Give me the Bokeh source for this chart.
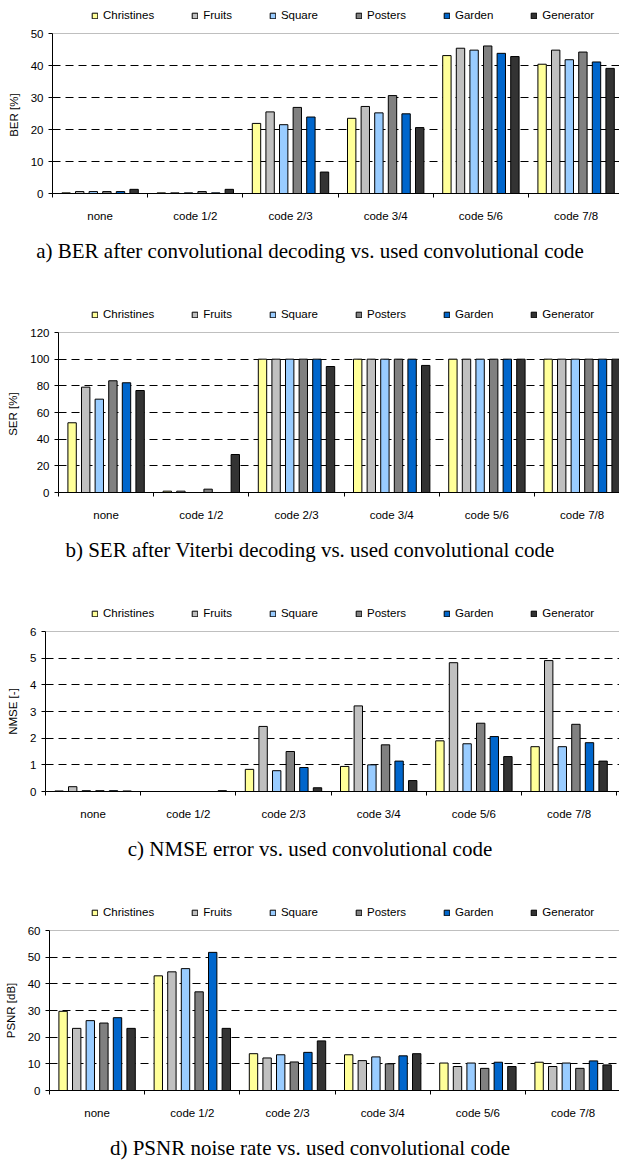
from bokeh.plotting import figure
from bokeh.layouts import column
from bokeh.models import (ColumnDataSource, FixedTicker, Legend, LegendItem,
                          Label, Span, Range1d)
from bokeh.transform import dodge
from bokeh.embed import file_html
from bokeh.resources import INLINE

# ---------------- data ----------------
categories = ["none", "code 1/2", "code 2/3", "code 3/4", "code 5/6", "code 7/8"]
series = ["Christines", "Fruits", "Square", "Posters", "Garden", "Generator"]
colors = ["#FFFF99", "#C0C0C0", "#99CCFF", "#808080", "#0066CC", "#333333"]

# a) BER [%]
ber_christines = [0.2, 0.2, 21.9, 23.5, 43.1, 40.4]
ber_fruits     = [0.6, 0.2, 25.5, 27.2, 45.4, 44.8]
ber_square     = [0.6, 0.2, 21.5, 25.2, 44.8, 41.8]
ber_posters    = [0.6, 0.6, 26.9, 30.6, 46.1, 44.2]
ber_garden     = [0.6, 0.2, 23.9, 24.9, 43.8, 41.1]
ber_generator  = [1.3, 1.3, 6.7, 20.6, 42.8, 39.1]
ber_ticks = [0, 10, 20, 30, 40, 50]

# b) SER [%]
ser_christines = [52.3, 1.0, 100, 100, 100, 100]
ser_fruits     = [79.0, 1.0, 100, 100, 100, 100]
ser_square     = [70.0, 0.0, 100, 100, 100, 100]
ser_posters    = [83.8, 2.5, 100, 100, 100, 100]
ser_garden     = [82.3, 0.0, 100, 100, 100, 100]
ser_generator  = [76.5, 28.5, 94.5, 95.3, 100, 100]
ser_ticks = [0, 20, 40, 60, 80, 100, 120]

# c) NMSE [-]
nmse_christines = [0.02, 0.0, 0.83, 0.94, 1.90, 1.68]
nmse_fruits     = [0.18, 0.0, 2.44, 3.21, 4.83, 4.91]
nmse_square     = [0.03, 0.0, 0.78, 1.00, 1.79, 1.68]
nmse_posters    = [0.03, 0.0, 1.50, 1.75, 2.56, 2.52]
nmse_garden     = [0.03, 0.0, 0.90, 1.14, 2.06, 1.83]
nmse_generator  = [0.02, 0.03, 0.14, 0.41, 1.31, 1.14]
nmse_ticks = [0, 1, 2, 3, 4, 5, 6]

# d) PSNR [dB]
psnr_christines = [29.7, 43.0, 13.8, 13.4, 10.3, 10.6]
psnr_fruits     = [23.3, 44.5, 12.2, 11.2, 9.0, 9.0]
psnr_square     = [26.2, 45.7, 13.4, 12.6, 10.3, 10.3]
psnr_posters    = [25.3, 37.0, 10.7, 10.0, 8.3, 8.3]
psnr_garden     = [27.3, 51.8, 14.3, 13.0, 10.6, 11.1]
psnr_generator  = [23.3, 23.3, 18.6, 13.8, 9.0, 9.6]
psnr_ticks = [0, 10, 20, 30, 40, 50, 60]

panels = [
    dict(values=[ber_christines, ber_fruits, ber_square, ber_posters, ber_garden, ber_generator],
         ticks=ber_ticks, ylabel="BER  [%]", left=52, cap_h=71, cap_from_top=22,
         caption="a) BER after convolutional decoding vs. used convolutional code"),
    dict(values=[ser_christines, ser_fruits, ser_square, ser_posters, ser_garden, ser_generator],
         ticks=ser_ticks, ylabel="SER  [%]", left=58, cap_h=71, cap_from_top=22,
         caption="b) SER after Viterbi decoding vs. used convolutional code"),
    dict(values=[nmse_christines, nmse_fruits, nmse_square, nmse_posters, nmse_garden, nmse_generator],
         ticks=nmse_ticks, ylabel="NMSE [-]", left=45, cap_h=71, cap_from_top=22,
         caption="c) NMSE error vs. used convolutional code"),
    dict(values=[psnr_christines, psnr_fruits, psnr_square, psnr_posters, psnr_garden, psnr_generator],
         ticks=psnr_ticks, ylabel="PSNR [dB]", left=49, cap_h=35, cap_from_top=22,
         caption="d) PSNR noise rate vs. used convolutional code"),
]

# ---------------- styling constants ----------------
W = 619
LEG_H = 26        # legend strip height
MAIN_TOP = 7      # border above plot frame
FRAME_H = 160
MAIN_BOTTOM = 35  # border below plot frame (category labels)
CAT_PX = 95.2
SANS = "Liberation Sans"
SERIF = "Liberation Serif"
FS = "11.5px"


def bare_fig(height):
    f = figure(width=W, height=height, output_backend="svg", toolbar_location=None,
               x_range=Range1d(0, W), y_range=Range1d(0, height),
               x_axis_location=None, y_axis_location=None,
               min_border=0, min_border_left=0, min_border_right=0,
               min_border_top=0, min_border_bottom=0, frame_align=False)
    f.grid.visible = False
    f.outline_line_color = None
    f.background_fill_color = "white"
    f.border_fill_color = "white"
    return f


rows = []
for pan in panels:
    L = pan["left"]
    ymax = pan["ticks"][-1]
    centers = [i + 0.5 for i in range(len(categories))]
    data = {"xc": centers}
    for s, vals in zip(series, pan["values"]):
        data[s] = vals
    src = ColumnDataSource(data)

    # ----- legend strip: hidden bar renderers supply the swatch styles -----
    lf = bare_fig(LEG_H)
    items = []
    for s, c in zip(series, colors):
        r = lf.vbar(x="xc", top=s, width=0.088, bottom=0, source=src,
                    fill_color=c, line_color="black", line_width=1,
                    visible=False)
        items.append(LegendItem(label=s, renderers=[r]))
    legend = Legend(items=items, orientation="horizontal",
                    location=(91, LEG_H - 22), padding=0, margin=0,
                    spacing=37, glyph_width=7, glyph_height=7,
                    label_standoff=5, label_height=14,
                    label_text_font=SANS, label_text_font_size=FS,
                    label_text_color="black",
                    inactive_fill_alpha=0, click_policy="none",
                    border_line_color=None, background_fill_alpha=0)
    lf.add_layout(legend)
    rows.append(lf)

    # ----- main chart -----
    H = MAIN_TOP + FRAME_H + MAIN_BOTTOM
    p = figure(width=W, height=H, output_backend="svg", toolbar_location=None,
               x_range=Range1d(0, (W - L) / CAT_PX), y_range=Range1d(0, ymax),
               min_border_left=L, min_border_right=0, min_border_top=MAIN_TOP,
               min_border_bottom=MAIN_BOTTOM, frame_align=False)
    p.outline_line_color = None
    p.background_fill_color = "white"
    p.border_fill_color = "white"

    n = len(series)
    for j, (s, c) in enumerate(zip(series, colors)):
        off = (j - (n - 1) / 2) / 7.0
        p.vbar(x=dodge("xc", off, range=p.x_range), top=s, width=0.088,
               bottom=0, source=src, fill_color=c, line_color="black",
               line_width=1)

    # y axis
    p.yaxis.ticker = FixedTicker(ticks=pan["ticks"])
    p.yaxis.axis_label = pan["ylabel"]
    p.yaxis.axis_label_text_font = SANS
    p.yaxis.axis_label_text_font_size = FS
    p.yaxis.axis_label_text_font_style = "normal"
    p.yaxis.axis_label_text_color = "black"
    p.yaxis.axis_label_standoff = 8
    p.yaxis.major_label_text_font = SANS
    p.yaxis.major_label_text_font_size = FS
    p.yaxis.major_label_text_color = "black"
    p.yaxis.major_label_standoff = 5
    p.yaxis.major_tick_in = 0
    p.yaxis.major_tick_out = 4
    p.yaxis.minor_tick_line_color = None
    p.yaxis.axis_line_color = "black"
    p.yaxis.major_tick_line_color = "black"

    # x axis: labels at category centres, ticks between categories
    p.xaxis.ticker = FixedTicker(ticks=centers,
                                 minor_ticks=list(range(len(categories) + 1)))
    p.xaxis.major_label_overrides = {c: lab for c, lab in zip(centers, categories)}
    p.xaxis.major_label_text_font = SANS
    p.xaxis.major_label_text_font_size = FS
    p.xaxis.major_label_text_color = "black"
    p.xaxis.major_label_standoff = 12
    p.xaxis.major_tick_in = 0
    p.xaxis.major_tick_out = 0
    p.xaxis.minor_tick_in = 0
    p.xaxis.minor_tick_out = 4
    p.xaxis.minor_tick_line_color = "black"
    p.xaxis.axis_line_color = "black"

    # grid
    p.xgrid.visible = False
    p.ygrid.grid_line_color = "black"
    p.ygrid.grid_line_dash = "8 5"
    p.ygrid.grid_line_width = 1
    p.add_layout(Span(location=ymax, dimension="width", line_color="#808080",
                      line_width=1, level="underlay"))
    rows.append(p)

    # ----- caption strip -----
    cf = bare_fig(pan["cap_h"])
    cf.add_layout(Label(x=W / 2, y=pan["cap_h"] - pan["cap_from_top"],
                        x_units="screen", y_units="screen",
                        text=pan["caption"], text_align="center",
                        text_baseline="middle", text_font=SERIF,
                        text_font_size="21px", text_color="black"))
    rows.append(cf)

layout = column(*rows, spacing=0)
open("out.html", "w").write(file_html(layout, INLINE))
